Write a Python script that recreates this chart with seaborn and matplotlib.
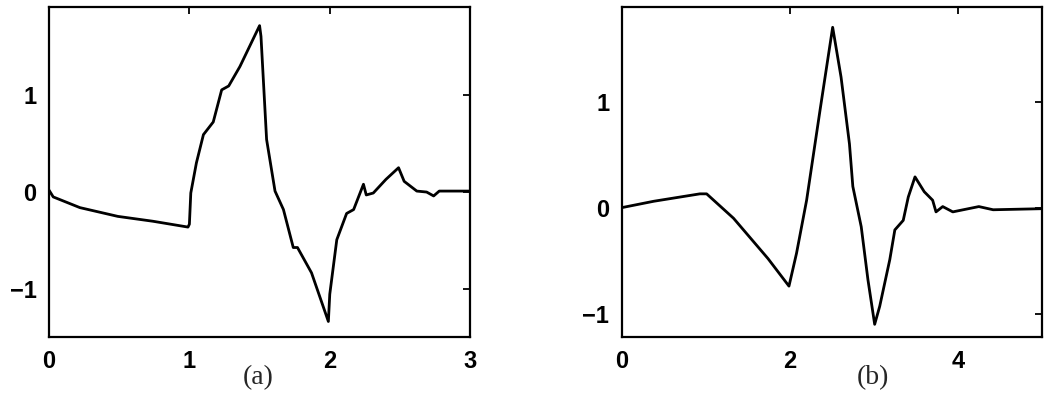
import matplotlib
matplotlib.use("Agg")
import matplotlib.pyplot as plt
import pandas as pd
import seaborn as sns

# Panel (a): curve, support [0, 3]
xa = [0.00, 0.03, 0.22, 0.49, 0.74, 0.99, 1.00, 1.01, 1.05, 1.10, 1.17, 1.23, 1.28,
      1.36, 1.50, 1.51, 1.55, 1.61, 1.67, 1.74, 1.77, 1.87, 1.99, 2.00, 2.05, 2.12,
      2.17, 2.24, 2.26, 2.31, 2.40, 2.49, 2.53, 2.62, 2.69, 2.74, 2.78, 3.00]
ya = [0.02, -0.05, -0.16, -0.25, -0.30, -0.36, -0.33, -0.01, 0.30, 0.59, 0.72, 1.05, 1.09,
      1.29, 1.71, 1.60, 0.54, 0.01, -0.18, -0.57, -0.57, -0.83, -1.33, -1.05, -0.49, -0.22,
      -0.18, 0.08, -0.03, -0.01, 0.13, 0.25, 0.11, 0.01, 0.00, -0.04, 0.01, 0.01]

# Panel (b): curve, support [0, 5]
xb = [0.00, 0.38, 0.93, 1.01, 1.33, 1.74, 1.99, 2.08, 2.20, 2.36, 2.51, 2.61, 2.71,
      2.75, 2.85, 2.93, 3.01, 3.07, 3.19, 3.25, 3.35, 3.41, 3.49, 3.60, 3.70, 3.74,
      3.82, 3.94, 4.25, 4.42, 5.00]
yb = [0.00, 0.06, 0.13, 0.13, -0.10, -0.48, -0.74, -0.43, 0.07, 0.92, 1.70, 1.23, 0.60,
      0.20, -0.18, -0.68, -1.10, -0.93, -0.49, -0.21, -0.12, 0.10, 0.29, 0.15, 0.07, -0.04,
      0.01, -0.04, 0.01, -0.02, -0.01]

xticks_a = [0, 1, 2, 3]
xticks_b = [0, 2, 4]
yticks = [-1, 0, 1]
panel_labels = ["(a)", "(b)"]

sns.set_style("white")
plt.rcParams["font.family"] = ["Liberation Sans", "DejaVu Sans"]

fig = plt.figure(figsize=(10.45, 3.97), dpi=100)
ax_a = fig.add_axes([0.0469, 0.151, 0.403, 0.831])
ax_b = fig.add_axes([0.595, 0.151, 0.402, 0.831])

panels = [
    (ax_a, xa, ya, (0, 3), (-1.49, 1.90), xticks_a, 0.247),
    (ax_b, xb, yb, (0, 5), (-1.22, 1.89), xticks_b, 0.835),
]

for (ax, x, y, xlim, ylim, xt, lx), label in zip(panels, panel_labels):
    df = pd.DataFrame({"x": x, "y": y})
    sns.lineplot(data=df, x="x", y="y", ax=ax, color="black",
                 linewidth=2.0, estimator=None, sort=False)
    ax.set_xlim(*xlim)
    ax.set_ylim(*ylim)
    ax.set_xticks(xt)
    ax.set_yticks(yticks)
    ax.set_yticklabels(["\u22121", "0", "1"])
    ax.set_xlabel("")
    ax.set_ylabel("")
    ax.tick_params(direction="in", top=True, right=True, length=5, width=1.3,
                   labelsize=17, pad=9, colors="black")
    for lab in ax.get_xticklabels() + ax.get_yticklabels():
        lab.set_fontweight("bold")
    for sp in ax.spines.values():
        sp.set_visible(True)
        sp.set_linewidth(1.6)
        sp.set_color("black")
    fig.text(lx, 0.048, label, ha="center", va="center", fontsize=20,
             family=["Liberation Serif", "DejaVu Serif"])

fig.savefig("out.png", dpi=100)
